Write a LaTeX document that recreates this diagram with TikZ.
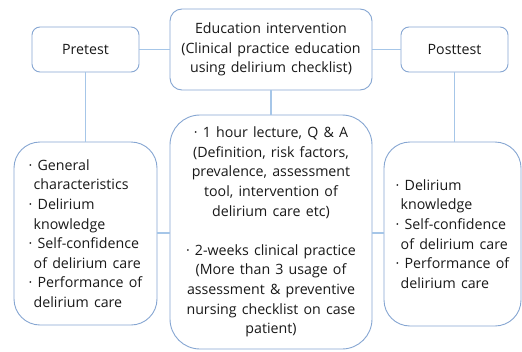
\documentclass[tikz,border=0pt]{standalone}
\usepackage{fontspec}
\setmainfont[WordSpace=1.4]{Open Sans}
\begin{document}
\begin{tikzpicture}[x=1pt,y=-1pt,
  box/.style={draw=boxblue, line width=0.9pt, fill=white, inner sep=0pt,
    font=\fontsize{14.2}{19.6}\selectfont, text=black!90},
  link/.style={draw=linkblue, line width=1.3pt}]
\definecolor{boxblue}{HTML}{86A6D2}
\definecolor{linkblue}{HTML}{A6C6E8}
\useasboundingbox (0,0) rectangle (522,351);
\fill[white] (0,0) rectangle (522,351);

% top row
\node[box, rounded corners=8pt, minimum width=107pt, minimum height=45pt] (pre) at (85.5,49.5) {Pretest};
\node[box, rounded corners=12pt, minimum width=202pt, minimum height=81pt, align=center] (edu) at (271,49.5)
  {Education intervention\\(Clinical practice education\\using delirium checklist)};
\node[box, rounded corners=8pt, minimum width=107pt, minimum height=45pt] (post) at (454.5,49.5) {Posttest};

% bottom row
\node[box, rounded corners=26pt, minimum width=143pt, minimum height=183pt, align=left] (left) at (85.5,233.5)
  {· General\\\hspace{5pt}characteristics\\· Delirium\\\hspace{5pt}knowledge\\· Self-confidence\\\hspace{5pt}of delirium care\\· Performance of\\\hspace{5pt}delirium care};
\node[box, rounded corners=30pt, minimum width=202pt, minimum height=234pt, align=center] (mid) at (271,232)
  {· 1 hour lecture, Q \& A\\(Definition, risk factors,\\prevalence, assessment\\tool, intervention of\\delirium care etc)\\[19.6pt]· 2-weeks clinical practice\\(More than 3 usage of\\assessment \& preventive\\nursing checklist on case\\patient)};
\node[box, rounded corners=26pt, minimum width=137pt, minimum height=184pt, align=left] (right) at (452.5,234)
  {· Delirium\\\hspace{5pt}knowledge\\· Self-confidence\\\hspace{5pt}of delirium care\\· Performance of\\\hspace{5pt}delirium care};

% connectors between the boxes
\draw[link] (pre.east) -- (edu.west);
\draw[link] (edu.east) -- (post.west);
\draw[link] (pre.south) -- (pre.south |- left.north);
\draw[link] (edu.south) -- (mid.north);
\draw[link] (post.south) -- (post.south |- right.north);
\draw[link] (left.east |- 0,233) -- (mid.west |- 0,233);
\draw[link] (mid.east |- 0,233) -- (right.west |- 0,233);
\end{tikzpicture}
\end{document}
